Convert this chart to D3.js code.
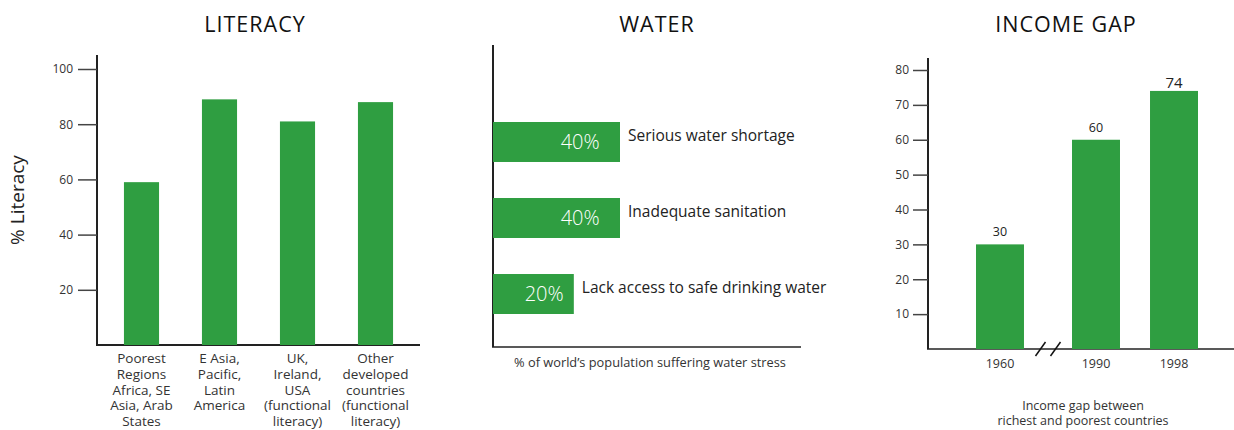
<!DOCTYPE html>
<html>
<head>
<meta charset="utf-8">
<script src="https://cdn.jsdelivr.net/npm/d3@7"></script>
<style>
  html, body { margin: 0; padding: 0; background: #fff; }
  svg { display: block; font-family: "Open Sans", "Noto Sans", sans-serif; }
</style>
</head>
<body>
<svg id="chart" width="1234" height="430"></svg>
<script>
// ---- Literacy panel ----
const literacyCategories = [
  ["Poorest", "Regions", "Africa, SE", "Asia, Arab", "States"],
  ["E Asia,", "Pacific,", "Latin", "America"],
  ["UK,", "Ireland,", "USA", "(functional", "literacy)"],
  ["Other", "developed", "countries", "(functional", "literacy)"]
];
const literacyValues = [59, 89, 81, 88];
const literacyTicks = [20, 40, 60, 80, 100];

// ---- Water panel ----
const waterCategories = ["Serious water shortage", "Inadequate sanitation", "Lack access to safe drinking water"];
const waterValues = [40, 40, 20];

// ---- Income gap panel ----
const incomeYears = ["1960", "1990", "1998"];
const incomeValues = [30, 60, 74];
const incomeTicks = [10, 20, 30, 40, 50, 60, 70, 80];

const GREEN = "#2f9e41";
const INK = "#222";
const TEXT = "#333";
const FONT = "'Open Sans', 'Noto Sans', sans-serif";

const svg = d3.select("#chart");

function title(x, text) {
  svg.append("text").attr("x", x).attr("y", 32)
    .attr("text-anchor", "middle")
    .attr("font-size", 21.5).attr("letter-spacing", 1).attr("fill", "#111")
    .text(text);
}

// ================= LITERACY =================
{
  const x0 = 97, baseY = 345;
  const y = d3.scaleLinear().domain([0, 100]).range([baseY, 69]);
  const x = d3.scaleBand().domain(d3.range(literacyValues.length))
    .range([102.5, 414.5]).paddingInner(0.55).paddingOuter(0.275);

  title(255, "LITERACY");

  const g = svg.append("g");
  // y axis line
  g.append("line").attr("x1", x0).attr("x2", x0).attr("y1", 55).attr("y2", baseY)
    .attr("stroke", INK).attr("stroke-width", 2);
  // x baseline
  g.append("line").attr("x1", x0 - 1).attr("x2", 420).attr("y1", baseY).attr("y2", baseY)
    .attr("stroke", INK).attr("stroke-width", 2);

  const yAxis = d3.axisLeft(y).tickValues(literacyTicks).tickSize(19).tickPadding(5);
  const ag = g.append("g").attr("transform", `translate(${x0},0)`).call(yAxis);
  ag.select(".domain").remove();
  ag.selectAll(".tick line").attr("stroke", "#444").attr("stroke-width", 1.5);
  ag.selectAll(".tick text").attr("font-size", 12).attr("fill", TEXT)
    .attr("font-family", FONT);

  g.selectAll("rect.lit").data(literacyValues).join("rect")
    .attr("class", "lit")
    .attr("x", (d, i) => x(i)).attr("width", x.bandwidth())
    .attr("y", d => y(d)).attr("height", d => baseY - y(d))
    .attr("fill", GREEN);

  literacyCategories.forEach((lines, i) => {
    const t = g.append("text").attr("text-anchor", "middle")
      .attr("font-size", 13.5).attr("fill", TEXT);
    lines.forEach((ln, j) => {
      t.append("tspan").attr("x", x(i) + x.bandwidth() / 2)
        .attr("y", 363 + j * 15.8).text(ln);
    });
  });

  svg.append("text")
    .attr("transform", `translate(24,200) rotate(-90)`)
    .attr("text-anchor", "middle")
    .attr("font-size", 19).attr("fill", "#222")
    .text("% Literacy");
}

// ================= WATER =================
{
  const x0 = 493, baseY = 347;
  const x = d3.scaleLinear().domain([-15, 40]).range([x0, 620]);
  const y = d3.scaleBand().domain(d3.range(waterValues.length))
    .range([84, 352]).paddingInner(0.474).paddingOuter(0.5);

  title(657, "WATER");

  const g = svg.append("g");
  g.append("line").attr("x1", x0).attr("x2", x0).attr("y1", 45).attr("y2", baseY)
    .attr("stroke", INK).attr("stroke-width", 2);
  g.append("line").attr("x1", x0 - 1).attr("x2", 801).attr("y1", baseY).attr("y2", baseY)
    .attr("stroke", INK).attr("stroke-width", 1.5);

  g.selectAll("rect.wat").data(waterValues).join("rect")
    .attr("class", "wat")
    .attr("x", x0).attr("width", d => x(d) - x0)
    .attr("y", (d, i) => y(i)).attr("height", y.bandwidth())
    .attr("fill", GREEN);

  // value labels inside the bars
  g.selectAll("text.wv").data(waterValues).join("text")
    .attr("class", "wv")
    .attr("x", d => x(d * 0.78))
    .attr("y", (d, i) => y(i) + y.bandwidth() / 2 + 7)
    .attr("text-anchor", "end")
    .attr("font-size", 20).attr("font-weight", 300).attr("fill", "#fff")
    .text(d => d + "%");

  // category labels beside the bars
  g.selectAll("text.wc").data(waterCategories).join("text")
    .attr("class", "wc")
    .attr("x", (d, i) => x(waterValues[i]) + 8)
    .attr("y", (d, i) => y(i) + y.bandwidth() / 2 - 1)
    .attr("font-size", 15.5).attr("fill", "#222")
    .text(d => d);

  g.append("text").attr("x", 650).attr("y", 367)
    .attr("text-anchor", "middle").attr("font-size", 12.8).attr("fill", TEXT)
    .text("% of world\u2019s population suffering water stress");
}

// ================= INCOME GAP =================
{
  const x0 = 928, baseY = 349;
  const breakShift = 18;   // extra room before the axis break
  const y = d3.scaleLinear().domain([0, 80]).range([baseY, 70]);
  const x = d3.scaleBand().domain(incomeYears)
    .range([955, 1237]).paddingInner(0.385).paddingOuter(0.5);
  const bx = yr => x(yr) - (yr === "1960" ? breakShift : 0);

  title(1066, "INCOME GAP");

  const g = svg.append("g");
  g.append("line").attr("x1", x0).attr("x2", x0).attr("y1", 58).attr("y2", baseY)
    .attr("stroke", INK).attr("stroke-width", 2);
  g.append("line").attr("x1", x0 - 1).attr("x2", 1234).attr("y1", baseY).attr("y2", baseY)
    .attr("stroke", INK).attr("stroke-width", 1.5);

  const yAxis = d3.axisLeft(y).tickValues(incomeTicks).tickSize(15).tickPadding(4);
  const ag = g.append("g").attr("transform", `translate(${x0},0)`).call(yAxis);
  ag.select(".domain").remove();
  ag.selectAll(".tick line").attr("stroke", "#444").attr("stroke-width", 1.5);
  ag.selectAll(".tick text").attr("font-size", 12).attr("fill", TEXT)
    .attr("font-family", FONT);

  g.selectAll("rect.inc").data(incomeValues).join("rect")
    .attr("class", "inc")
    .attr("x", (d, i) => bx(incomeYears[i])).attr("width", x.bandwidth())
    .attr("y", d => y(d)).attr("height", d => baseY - y(d))
    .attr("fill", GREEN);

  // value labels above bars; the latest year is emphasised
  g.selectAll("text.iv").data(incomeValues).join("text")
    .attr("class", "iv")
    .attr("x", (d, i) => bx(incomeYears[i]) + x.bandwidth() / 2)
    .attr("y", (d, i) => y(d) - (i === incomeValues.length - 1 ? 3 : 8))
    .attr("text-anchor", "middle")
    .attr("font-size", (d, i) => i === incomeValues.length - 1 ? 15 : 12.5)
    .attr("fill", "#222")
    .text(d => d);

  g.selectAll("text.iy").data(incomeYears).join("text")
    .attr("class", "iy")
    .attr("x", d => bx(d) + x.bandwidth() / 2)
    .attr("y", 368)
    .attr("text-anchor", "middle").attr("font-size", 12.5).attr("fill", TEXT)
    .text(d => d);

  // axis break marks between 1960 and 1990
  const bm = (bx("1960") + x.bandwidth() + x("1990")) / 2;
  [-7.5, 7.5].forEach(off => {
    g.append("line")
      .attr("x1", bm + off - 5).attr("y1", baseY + 7)
      .attr("x2", bm + off + 5).attr("y2", baseY - 7)
      .attr("stroke", "#111").attr("stroke-width", 1.5);
  });

  const lab = g.append("text").attr("text-anchor", "middle")
    .attr("font-size", 12.5).attr("fill", TEXT);
  lab.append("tspan").attr("x", 1083).attr("y", 410).text("Income gap between");
  lab.append("tspan").attr("x", 1083).attr("y", 425).text("richest and poorest countries");
}
</script>
</body>
</html>
